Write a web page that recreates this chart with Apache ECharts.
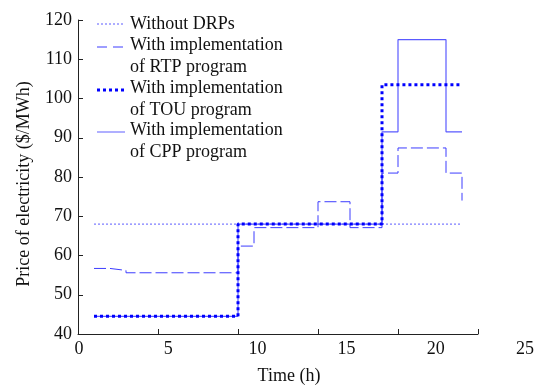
<!DOCTYPE html>
<html>
<head>
<meta charset="utf-8">
<script src="https://cdn.jsdelivr.net/npm/echarts@6.0.0/dist/echarts.min.js"></script>
<style>
  html, body { margin: 0; padding: 0; background: #fff; }
  #chart { width: 535px; height: 387px; }
</style>
</head>
<body>
<div id="chart"></div>
<script>
// hour of day (value holds from this hour to the next)
var hours = [1, 2, 3, 4, 5, 6, 7, 8, 9, 10, 11, 12, 13, 14, 15, 16, 17, 18, 19, 20, 21, 22, 23, 24];
// price of electricity ($/MWh)
var withoutDRPs = [68, 68, 68, 68, 68, 68, 68, 68, 68, 68, 68, 68, 68, 68, 68, 68, 68, 68, 68, 68, 68, 68, 68, 68];
var rtpPrice = [56.7, 56.2, 55.6, 55.6, 55.6, 55.6, 55.6, 55.6, 55.6, 62.4, 67.1, 67.1, 67.1, 67.1, 73.7, 73.7, 67.1, 67.1, 81, 87.4, 87.4, 87.4, 81, 74];
var touPrice = [44.5, 44.5, 44.5, 44.5, 44.5, 44.5, 44.5, 44.5, 44.5, 68, 68, 68, 68, 68, 68, 68, 68, 68, 103.5, 103.5, 103.5, 103.5, 103.5, 103.5];
var cppPrice = [44.5, 44.5, 44.5, 44.5, 44.5, 44.5, 44.5, 44.5, 44.5, 68, 68, 68, 68, 68, 68, 68, 68, 68, 91.5, 115, 115, 115, 91.5, 91.5];

var seriesNames = [
  "Without DRPs",
  "With implementation\nof RTP program",
  "With implementation\nof TOU program",
  "With implementation\nof CPP program"
];
var xTicks = [0, 5, 10, 15, 20, 25];
var yTicks = [40, 50, 60, 70, 80, 90, 100, 110, 120];

var FONT = "'Liberation Serif', 'Times New Roman', serif";

function pairs(vals) {
  return hours.map(function (h, i) { return [h, vals[i]]; });
}

// legend drawn by hand so the sample line sits on the first text line
var legendStyles = [
  { stroke: "#5c5cff", lineWidth: 1, lineDash: [2, 2] },
  { stroke: "#3d3dff", lineWidth: 1, lineDash: [10, 6] },
  { stroke: "#0000ff", lineWidth: 3, lineDash: [3, 3] },
  { stroke: "#7a7aff", lineWidth: 1.2 }
];
var legendRows = [25, 46, 89, 131];
var legendGraphic = [];
seriesNames.forEach(function (name, i) {
  var y = legendRows[i];
  var ly = i === 0 ? y - 1 : y + 1;
  legendGraphic.push({
    type: "line",
    shape: { x1: 97, y1: ly, x2: 125, y2: ly },
    style: legendStyles[i]
  });
  legendGraphic.push({
    type: "text",
    x: 130,
    y: y - 11,
    style: {
      text: name,
      font: "18px " + FONT,
      fill: "#111",
      lineHeight: 21.5,
      verticalAlign: "top"
    }
  });
});
// y axis title, centred where the reference has it
legendGraphic.push({
  type: "text",
  x: 24,
  y: 184,
  rotation: Math.PI / 2,
  style: {
    text: "Price of electricity ($/MWh)",
    font: "18px " + FONT,
    fill: "#111",
    align: "center",
    verticalAlign: "middle"
  }
});

var myChart = echarts.init(document.getElementById("chart"));

var option = {
  animation: false,
  backgroundColor: "#fff",
  grid: [
    { left: 78, top: 20, width: 400, height: 314, outerBoundsMode: "none" },
    // label-only axis: the printed tick numbers sit a little wider than the ticks
    { left: 79, top: 20, width: 446, height: 314, outerBoundsMode: "none" }
  ],
  xAxis: [
    {
      type: "value",
      gridIndex: 0,
      min: xTicks[0],
      max: xTicks[xTicks.length - 1],
      interval: 5,
      axisLine: { show: true, lineStyle: { color: "#222", width: 1 } },
      axisTick: { show: true, inside: true, length: 5, lineStyle: { color: "#222" } },
      axisLabel: { show: false },
      splitLine: { show: false },
      name: "Time (h)",
      nameLocation: "middle",
      nameGap: 33,
      nameTextStyle: { fontFamily: FONT, fontSize: 18, color: "#111", padding: [0, 0, 0, 22] }
    },
    {
      type: "value",
      gridIndex: 1,
      min: xTicks[0],
      max: xTicks[xTicks.length - 1],
      interval: 5,
      axisLine: { show: false },
      axisTick: { show: false },
      splitLine: { show: false },
      axisLabel: { fontFamily: FONT, fontSize: 18, color: "#111", margin: 6 }
    }
  ],
  yAxis: [
    {
      type: "value",
      gridIndex: 0,
      min: yTicks[0],
      max: yTicks[yTicks.length - 1],
      interval: 10,
      axisLine: { show: true, lineStyle: { color: "#222", width: 1 } },
      axisTick: { show: true, inside: true, length: 5, lineStyle: { color: "#222" } },
      axisLabel: { fontFamily: FONT, fontSize: 18, color: "#111", margin: 6 },
      splitLine: { show: false }
    },
    { type: "value", gridIndex: 1, min: 40, max: 120, show: false }
  ],
  graphic: legendGraphic,
  series: [
    {
      name: seriesNames[0],
      type: "line",
      step: "end",
      symbol: "none",
      lineStyle: { color: "#5c5cff", width: 1, type: [2, 2] },
      data: pairs(withoutDRPs),
      z: 2
    },
    {
      name: seriesNames[3],
      type: "line",
      step: "end",
      symbol: "none",
      lineStyle: { color: "#5a5aff", width: 1.2, type: "solid" },
      data: pairs(cppPrice),
      z: 3
    },
    {
      name: seriesNames[1],
      type: "line",
      step: "end",
      symbol: "none",
      lineStyle: { color: "#3d3dff", width: 1, type: [12, 4] },
      data: pairs(rtpPrice),
      z: 4
    },
    {
      name: seriesNames[2],
      type: "line",
      step: "end",
      symbol: "none",
      lineStyle: { color: "#0000ff", width: 3, type: [3, 3] },
      data: pairs(touPrice),
      z: 5
    }
  ]
};
myChart.setOption(option);
</script>
</body>
</html>
